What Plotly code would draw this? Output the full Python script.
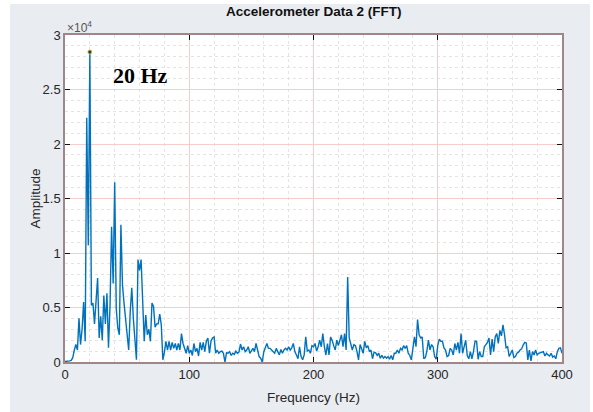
import plotly.graph_objects as go

# FFT of accelerometer channel 2: 1.25 Hz bins from 0 to 400 Hz
freq_step_hz = 1.25
amplitude_thousands = [
    0.05, 0.05, 0.05, 0.1, 0.15, 0.4, 1.1, 1.6, 1.1, 4.0,
    1.6, 3.0, 5.5, 1.9, 22.4, 10.7, 28.44, 5.2, 5.4, 3.5,
    5.6, 7.7, 2.2, 4.2, 2.0, 6.1, 3.5, 6.3, 1.3, 5.2,
    12.4, 7.2, 16.5, 4.9, 3.1, 2.5, 12.6, 7.1, 5.4, 3.7,
    2.2, 1.1, 4.6, 6.8, 4.0, 1.6, 0.2, 9.4, 8.4, 9.4,
    4.5, 1.9, 4.3, 2.5, 3.0, 1.9, 5.4, 5.1, 3.2, 3.5,
    3.5, 4.4, 3.4, 0.2, 0.9, 1.9, 1.1, 1.9, 1.1, 1.8,
    1.25, 1.7, 1.1, 1.7, 1.1, 2.6, 1.7, 1.25, 0.8, 1.5,
    0.8, 1.1, 0.6, 1.7, 0.95, 1.25, 0.55, 1.8, 1.1, 1.8,
    0.95, 1.9, 2.2, 0.8, 1.9, 2.2, 2.3, 0.8, 1.1, 0.8,
    0.95, 1.0, 0.8, 0.0, 0.85, 0.8, 0.95, 0.6, 0.8, 0.7,
    1.0, 0.8, 0.9, 1.65, 1.1, 1.4, 0.95, 1.1, 1.4, 0.8,
    1.1, 1.25, 0.95, 1.7, 1.1, 0.5, 0.35, 0.0, 0.95, 1.4,
    1.7, 1.25, 1.25, 1.1, 0.95, 0.8, 1.25, 0.95, 0.65, 1.15,
    0.8, 1.1, 1.25, 1.1, 1.4, 1.1, 1.3, 1.7, 0.95, 0.65,
    0.3, 1.4, 0.5, 0.2, 0.65, 2.3, 1.0, 1.1, 0.8, 1.5,
    1.4, 1.7, 1.0, 1.4, 2.0, 1.4, 2.6, 1.4, 0.64, 1.7,
    0.64, 2.3, 2.0, 1.5, 1.1, 2.0, 1.5, 2.0, 2.5, 1.4,
    2.6, 1.1, 7.8, 2.2, 1.6, 1.1, 1.6, 1.5, 0.95, 0.2,
    1.6, 1.1, 0.8, 1.9, 1.3, 1.5, 0.95, 1.1, 0.3, 0.9,
    0.85, 0.6, 0.8, 0.35, 0.6, 0.35, 0.5, 0.35, 0.5, 0.25,
    0.6, 0.2, 0.8, 0.8, 1.1, 0.8, 1.25, 1.1, 1.5, 1.25,
    1.5, 0.8, 0.6, 0.2, 1.1, 2.3, 1.4, 3.9, 2.5, 2.2,
    2.3, 0.3, 0.4, 1.0, 2.0, 1.1, 1.6, 1.4, 0.5, 0.25,
    1.5, 2.1, 1.9, 1.9, 1.3, 1.1, 0.5, 0.6, 1.25, 1.1,
    0.65, 1.7, 1.1, 1.8, 0.8, 2.6, 0.8, 1.3, 2.0, 0.6,
    0.3, 0.95, 0.3, 0.95, 1.9, 1.9, 0.25, 0.95, 0.5, 0.5,
    1.4, 1.6, 1.8, 2.2, 0.65, 2.1, 0.95, 2.3, 2.6, 1.7,
    2.9, 2.4, 3.4, 2.5, 1.3, 1.4, 0.5, 0.8, 1.1, 0.4,
    0.5, 0.8, 0.9, 1.1, 1.2, 1.55, 1.8, 1.75, 0.2, 1.1,
    0.1, 0.95, 0.65, 1.1, 0.65, 0.8, 0.85, 0.9, 0.95, 0.55,
    0.8, 0.65, 0.55, 0.8, 0.45, 0.55, 0.3, 0.95, 1.25, 1.3,
    0.8,
]
frequency_hz = [i * freq_step_hz for i in range(len(amplitude_thousands))]
amplitude = [v * 1000 for v in amplitude_thousands]

peak_index = 16  # 20 Hz bin

x_ticks = [0, 100, 200, 300, 400]
y_ticks = [0, 5000, 10000, 15000, 20000, 25000, 30000]
y_tick_text = ["0", "0.5", "1", "1.5", "2", "2.5", "3"]

line_blue = "#0072BD"
frame_color = "#a08686"
major_grid = "#f6cccc"
minor_grid = "#e4e4e4"
text_color = "#262626"
font_family = "Liberation Sans, Arial, sans-serif"

W, H = 593, 412
L, R, T, B = 65, 31, 35, 50

fig = go.Figure()
fig.add_trace(go.Scatter(
    x=frequency_hz, y=amplitude, mode="lines",
    line=dict(color=line_blue, width=1.4), hoverinfo="skip",
))
# data tip marker on the dominant peak
fig.add_trace(go.Scatter(
    x=[frequency_hz[peak_index]], y=[amplitude[peak_index]], mode="markers",
    marker=dict(size=4, color="#3a3a2a", line=dict(color="#d6c24a", width=0.8)),
    hoverinfo="skip",
))

axis_common = dict(
    showline=True, linecolor=frame_color, linewidth=1.5, mirror="ticks",
    ticks="inside", ticklen=5, tickwidth=1.2, tickcolor="#111111",
    showgrid=True, gridcolor=major_grid, gridwidth=1,
    zeroline=False,
    tickfont=dict(family=font_family, size=13, color=text_color),
)

fig.update_layout(
    width=W, height=H,
    margin=dict(l=L, r=R, t=T, b=B),
    paper_bgcolor="white", plot_bgcolor="white",
    showlegend=False,
    xaxis=dict(
        range=[0, 400], tickvals=x_ticks, ticktext=[str(v) for v in x_ticks],
        minor=dict(dtick=20, tick0=0, showgrid=True, gridcolor=minor_grid,
                   griddash="dot", gridwidth=1, ticks=""),
        **axis_common,
    ),
    yaxis=dict(
        range=[0, 30000], tickvals=y_ticks, ticktext=y_tick_text,
        minor=dict(dtick=1000, tick0=0, showgrid=True, gridcolor=minor_grid,
                   griddash="dot", gridwidth=1, ticks=""),
        **axis_common,
    ),
    shapes=[
        # figure panel background
        dict(type="rect", xref="paper", yref="paper", layer="below",
             x0=(10 - L) / (W - L - R), x1=(590 - L) / (W - L - R),
             y0=(H - B - 412) / (H - T - B), y1=(H - B - 4) / (H - T - B),
             fillcolor="#e9ecf1", line=dict(width=0)),
        # white plot area on top of the panel
        dict(type="rect", xref="paper", yref="paper", layer="below",
             x0=0, x1=1, y0=0, y1=1, fillcolor="white", line=dict(width=0)),
        # white box behind the peak label
        dict(type="rect", xref="paper", yref="paper", layer="between",
             x0=(92 - L) / (W - L - R), x1=(212 - L) / (W - L - R),
             y0=(H - B - 97) / (H - T - B), y1=(H - B - 42) / (H - T - B),
             fillcolor="white", line=dict(width=0)),
    ],
    annotations=[
        dict(text="<b>Accelerometer Data 2 (FFT)</b>", xref="paper", yref="paper",
             x=0.5, y=(H - B - 12) / (H - T - B), xanchor="center", yanchor="middle",
             showarrow=False, font=dict(family=font_family, size=13.5, color="#111111")),
        dict(text="×10<sup>4</sup>", xref="paper", yref="paper",
             x=0, y=(H - B - 27) / (H - T - B), xanchor="left", yanchor="middle",
             showarrow=False, font=dict(family=font_family, size=12, color="#555555")),
        dict(text="Amplitude", xref="paper", yref="paper", textangle=-90,
             x=(35 - L) / (W - L - R), y=0.5, xanchor="center", yanchor="middle",
             showarrow=False, font=dict(family=font_family, size=13.5, color=text_color)),
        dict(text="Frequency (Hz)", xref="paper", yref="paper",
             x=0.5, y=(H - B - 397) / (H - T - B), xanchor="center", yanchor="middle",
             showarrow=False, font=dict(family=font_family, size=13.5, color=text_color)),
        dict(text="<b>20 Hz</b>", xref="paper", yref="paper",
             x=(140 - L) / (W - L - R), y=(H - B - 75) / (H - T - B),
             xanchor="center", yanchor="middle", showarrow=False,
             font=dict(family="Liberation Serif, Times New Roman, serif", size=22, color="black")),
    ],
)

fig.write_html("out.html")
